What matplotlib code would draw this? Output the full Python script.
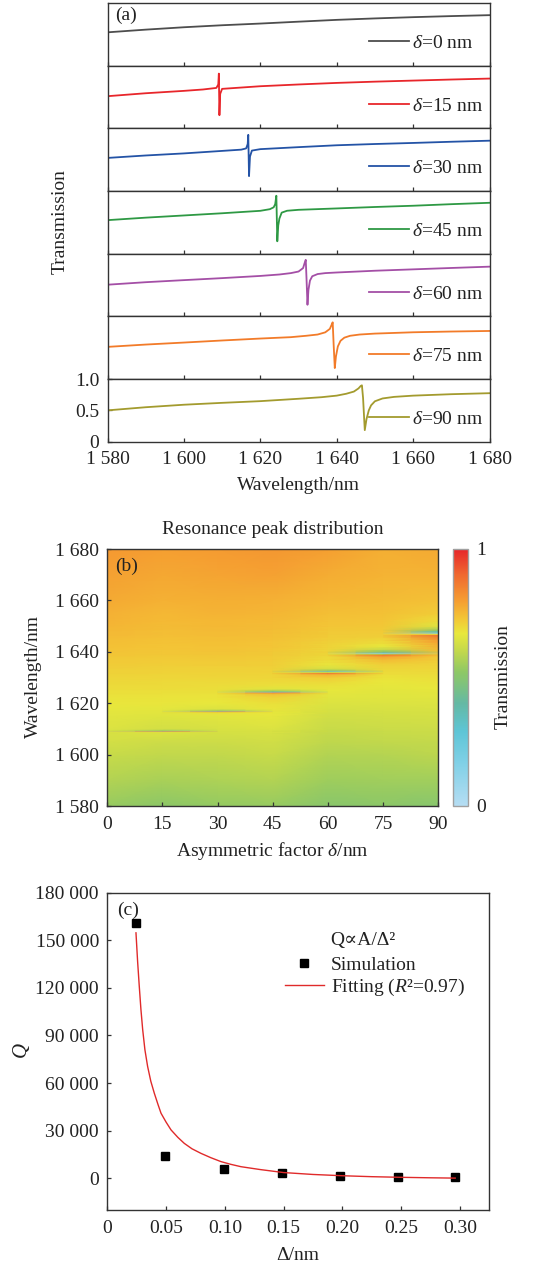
import numpy as np
import matplotlib
matplotlib.use('Agg')
import matplotlib.pyplot as plt
from matplotlib.colors import LinearSegmentedColormap
from matplotlib.ticker import FuncFormatter

# ---------------- data ----------------
deltas = [0, 15, 30, 45, 60, 75, 90]
line_colors = ['#4d4d4d', '#e8262b', '#2453a6', '#2e9944', '#a44fa6', '#f27b29', '#a39b2e']

lam_d0 = [1580, 1590, 1600, 1610, 1620, 1630, 1640, 1650, 1660, 1670, 1680]
T_d0 = [0.532, 0.575, 0.613, 0.645, 0.672, 0.702, 0.731, 0.754, 0.774, 0.791, 0.806]

lam_d15 = [1580, 1590, 1600, 1605, 1608.5, 1609.0, 1609.15, 1609.3, 1609.5, 1610, 1620, 1630, 1640, 1650, 1660, 1670, 1680]
T_d15 = [0.513, 0.560, 0.598, 0.620, 0.645, 0.700, 0.873, 0.210, 0.550, 0.630, 0.672, 0.700, 0.725, 0.745, 0.762, 0.779, 0.794]

lam_d30 = [1580, 1590, 1600, 1610, 1615, 1616.3, 1616.7, 1616.85, 1617.05, 1617.3, 1617.8, 1620, 1630, 1640, 1650, 1660, 1670, 1680]
T_d30 = [0.528, 0.567, 0.600, 0.640, 0.660, 0.680, 0.750, 0.896, 0.238, 0.550, 0.645, 0.668, 0.700, 0.730, 0.750, 0.767, 0.786, 0.803]

lam_d45 = [1580, 1590, 1600, 1610, 1620, 1622.5, 1623.5, 1623.9, 1624.2, 1624.45, 1624.7, 1625.0, 1625.6, 1627, 1630, 1640, 1650, 1660, 1670, 1680]
T_d45 = [0.535, 0.575, 0.610, 0.645, 0.684, 0.710, 0.740, 0.790, 0.925, 0.198, 0.450, 0.560, 0.655, 0.685, 0.700, 0.722, 0.745, 0.765, 0.790, 0.812]

lam_d60 = [1580, 1590, 1600, 1610, 1620, 1625, 1628, 1630, 1631.2, 1631.6, 1631.9, 1632.1, 1632.35, 1632.6, 1633.0, 1633.6, 1635, 1637, 1640, 1650, 1660, 1670, 1680]
T_d60 = [0.505, 0.545, 0.578, 0.610, 0.645, 0.668, 0.690, 0.715, 0.770, 0.850, 0.902, 0.600, 0.185, 0.420, 0.570, 0.640, 0.675, 0.690, 0.700, 0.728, 0.750, 0.772, 0.793]

lam_d75 = [1580, 1590, 1600, 1610, 1620, 1628, 1632, 1635, 1637, 1638.2, 1638.7, 1638.95, 1639.2, 1639.5, 1639.8, 1640.3, 1641, 1642, 1643.5, 1646, 1650, 1660, 1670, 1680]
T_d75 = [0.513, 0.550, 0.582, 0.615, 0.646, 0.668, 0.690, 0.710, 0.745, 0.800, 0.870, 0.905, 0.550, 0.175, 0.360, 0.520, 0.610, 0.660, 0.690, 0.710, 0.725, 0.746, 0.758, 0.767]

lam_d90 = [1580, 1590, 1600, 1610, 1620, 1630, 1636, 1640, 1642.5, 1644.5, 1645.7, 1646.3, 1646.6, 1646.9, 1647.35, 1647.8, 1648.4, 1649, 1650, 1652, 1655, 1660, 1670, 1680]
T_d90 = [0.500, 0.550, 0.590, 0.620, 0.647, 0.685, 0.710, 0.735, 0.765, 0.800, 0.850, 0.890, 0.900, 0.700, 0.184, 0.360, 0.500, 0.580, 0.645, 0.690, 0.715, 0.735, 0.758, 0.774]

spectra_lam = [lam_d0, lam_d15, lam_d30, lam_d45, lam_d60, lam_d75, lam_d90]
spectra_T = [T_d0, T_d15, T_d30, T_d45, T_d60, T_d75, T_d90]

# panel (c)
sim_delta = [0.0244, 0.0493, 0.0992, 0.1486, 0.1980, 0.2470, 0.2957]
sim_Q = [161000, 14100, 5700, 3160, 1700, 1050, 630]
fit_delta = [0.0244, 0.0258, 0.0272, 0.0286, 0.0301, 0.0320, 0.0343, 0.0370, 0.0400, 0.0430, 0.0457,
             0.0500, 0.0542, 0.0600, 0.0655, 0.0720, 0.0797, 0.0880, 0.0967, 0.1050, 0.1137, 0.130,
             0.150, 0.175, 0.200, 0.225, 0.250, 0.275, 0.296]
fit_Q = [154700, 136500, 121000, 106500, 93700, 81000, 70500, 61200, 53600, 46800, 41000,
         35400, 30500, 25800, 22000, 18600, 15700, 13000, 10500, 8800, 7300, 5500,
         3600, 2400, 1600, 1000, 600, 300, 100]

# ---------------- style ----------------
plt.rcParams['font.family'] = ['Liberation Serif', 'DejaVu Serif']
plt.rcParams['mathtext.fontset'] = 'custom'
plt.rcParams['mathtext.rm'] = 'Liberation Serif'
plt.rcParams['mathtext.it'] = 'Liberation Serif:italic'
plt.rcParams['mathtext.bf'] = 'Liberation Serif:bold'
plt.rcParams['font.size'] = 14
plt.rcParams['axes.linewidth'] = 1.0
plt.rcParams['axes.edgecolor'] = '#333333'
plt.rcParams['xtick.direction'] = 'in'
plt.rcParams['ytick.direction'] = 'in'
plt.rcParams['xtick.major.size'] = 3
plt.rcParams['ytick.major.size'] = 3
plt.rcParams['xtick.major.width'] = 0.9
plt.rcParams['ytick.major.width'] = 0.9
plt.rcParams['xtick.color'] = '#333333'
plt.rcParams['ytick.color'] = '#333333'
plt.rcParams['xtick.labelcolor'] = '#222222'
plt.rcParams['ytick.labelcolor'] = '#222222'
plt.rcParams['text.color'] = '#222222'

W, H = 538, 1265
fig = plt.figure(figsize=(W / 100, H / 100), dpi=100)

def fx(px):
    return px / W

def fy(py):
    return 1 - py / H

def thousands(v, pos):
    return f"{int(round(v)):,}".replace(',', ' ')

# ---------------- panel (a) ----------------
a_left, a_right = 107.5, 489.5
a_top, a_bot = 3.0, 441.7
n = len(deltas)
ph = (a_bot - a_top) / n
axes_a = []
for i, (d, lam, T, c) in enumerate(zip(deltas, spectra_lam, spectra_T, line_colors)):
    top = a_top + i * ph
    ax = fig.add_axes([fx(a_left), fy(top + ph), fx(a_right - a_left), ph / H])
    ax.plot(lam, T, color=c, lw=1.3, label=r'$\delta$=%d nm' % d)
    ax.set_xlim(1580, 1680)
    ax.set_ylim(0, 1)
    ax.set_xticks([1580, 1600, 1620, 1640, 1660, 1680])
    ax.xaxis.set_major_formatter(FuncFormatter(thousands))
    ax.tick_params(axis='x', pad=7)
    if i < n - 1:
        ax.tick_params(labelbottom=False, left=False, labelleft=False)
    else:
        ax.set_yticks([0, 0.5, 1.0])
        ax.set_yticklabels(['0', '0.5', '1.0'])
        ax.tick_params(axis='y', pad=6)
    ax.legend(loc='center left', bbox_to_anchor=((369 - a_left) / (a_right - a_left), 0.36),
              frameon=False, borderpad=0, borderaxespad=0, handlelength=2.06,
              handletextpad=0.15, fontsize=14)
    axes_a.append(ax)
axes_a[0].text(0.02, 0.94, '(a)', transform=axes_a[0].transAxes, va='top', ha='left', fontsize=14)
fig.text(fx(60), fy(222), 'Transmission', rotation=90, ha='center', va='center', fontsize=14)
fig.text(fx(298.5), fy(485), 'Wavelength/nm', ha='center', va='center', fontsize=14)

# ---------------- panel (b) ----------------
cmap = LinearSegmentedColormap.from_list('trans', [
    (0.00, '#b5ddf3'),
    (0.17, '#7fd0e6'),
    (0.29, '#5ec5d6'),
    (0.40, '#64b9a4'),
    (0.52, '#8ec865'),
    (0.60, '#c2d84c'),
    (0.67, '#e8e83c'),
    (0.73, '#f3c536'),
    (0.80, '#f59d31'),
    (0.90, '#f0692f'),
    (1.00, '#e6262a'),
])

b_left, b_right, b_top, b_bot = 107.3, 438.3, 549.0, 806.0
axb = fig.add_axes([fx(b_left), fy(b_bot), fx(b_right - b_left), (b_bot - b_top) / H])
lam_all = np.unique(np.concatenate([np.asarray(l, float) for l in spectra_lam]))
Z = np.array([np.interp(lam_all, l, t) for l, t in zip(spectra_lam, spectra_T)])
pcm = axb.pcolormesh(np.asarray(deltas, float), lam_all, Z.T, shading='gouraud',
                     cmap=cmap, vmin=0, vmax=1, rasterized=True)
axb.set_xlim(0, 90)
axb.set_ylim(1580, 1680)
axb.set_xticks(deltas)
axb.set_yticks([1580, 1600, 1620, 1640, 1660, 1680])
axb.yaxis.set_major_formatter(FuncFormatter(thousands))
axb.tick_params(axis='x', pad=7)
axb.tick_params(axis='y', pad=6)
axb.text(0.025, 0.968, '(b)', transform=axb.transAxes, va='top', ha='left', fontsize=14)
fig.text(fx(272.8), fy(529), 'Resonance peak distribution', ha='center', va='center', fontsize=14)
fig.text(fx(33), fy(677), 'Wavelength/nm', rotation=90, ha='center', va='center', fontsize=14)
fig.text(fx(272.8), fy(851), r'Asymmetric factor $\delta$/nm', ha='center', va='center', fontsize=14)

cax = fig.add_axes([fx(452.7), fy(b_bot), fx(468.3 - 452.7), (b_bot - b_top) / H])
cb = fig.colorbar(pcm, cax=cax, ticks=[0, 1])
cb.ax.set_yticklabels(['0', '1'])
cb.ax.tick_params(length=0, pad=6, labelsize=14)
cb.outline.set_edgecolor('#a0a0a0')
cb.outline.set_linewidth(1.0)
fig.text(fx(503), fy(677), 'Transmission', rotation=90, ha='center', va='center', fontsize=14)

# ---------------- panel (c) ----------------
c_left, c_right, c_top, c_bot = 107.3, 489.3, 892.7, 1210.0
axc = fig.add_axes([fx(c_left), fy(c_bot), fx(c_right - c_left), (c_bot - c_top) / H])
axc.plot(sim_delta, sim_Q, 's', color='black', markersize=5.2, ls='none', label='Simulation')
axc.plot(fit_delta, fit_Q, '-', color='#e02a2a', lw=1.0, label='Fitting ($R$\u00b2=0.97)')
axc.set_xlim(0, 0.325)
axc.set_ylim(-20000, 180000)
axc.set_xticks([0, 0.05, 0.10, 0.15, 0.20, 0.25, 0.30])
axc.set_xticklabels(['0', '0.05', '0.10', '0.15', '0.20', '0.25', '0.30'])
axc.set_yticks([0, 30000, 60000, 90000, 120000, 150000, 180000])
axc.yaxis.set_major_formatter(FuncFormatter(thousands))
axc.tick_params(axis='x', pad=7)
axc.tick_params(axis='y', pad=6)
axc.text(0.025, 0.972, '(c)', transform=axc.transAxes, va='top', ha='left', fontsize=14)
axc.legend(loc='center left', bbox_to_anchor=(fx(285), fy(976.9)), bbox_transform=fig.transFigure,
           frameon=False, borderpad=0, borderaxespad=0, handlelength=2.0, handletextpad=0.35,
           labelspacing=0.15, numpoints=1, fontsize=14)
fig.text(fx(330), fy(940), 'Q\u221dA/\u0394\u00b2', ha='left', va='center', fontsize=14)
fig.text(fx(21.7), fy(1051), r'$Q$', rotation=90, ha='center', va='center', fontsize=15)
fig.text(fx(298), fy(1255), '\u0394/nm', ha='center', va='center', fontsize=14)

fig.savefig('out.png', dpi=100)
